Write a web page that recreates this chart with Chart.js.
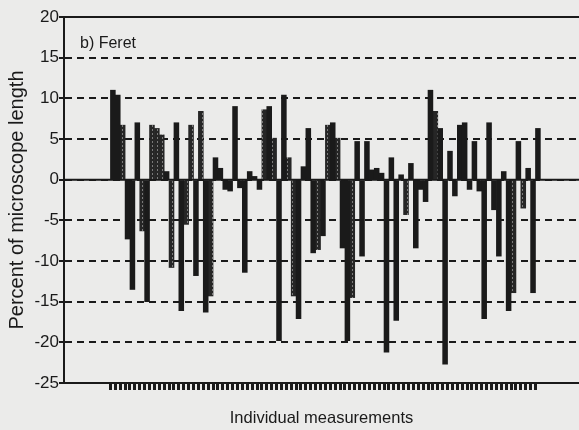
<!DOCTYPE html>
<html>
<head>
<meta charset="utf-8">
<script src="https://cdn.jsdelivr.net/npm/chart.js@4.4.0/dist/chart.umd.min.js"></script>
<style>
  html, body { margin: 0; padding: 0; background: #ebebea; }
</style>
</head>
<body>
<canvas id="myChart" width="579" height="430"></canvas>
<script>
// Feret: difference from microscope length (%) for each measurement
var solidBars = [
    11.0, 10.4, null, -7.3, -13.5, 7.0, null, -15.0, null, null,
    null, 1.0, null, 7.0, -16.1, null, null, -11.8, null, -16.3,
    null, 2.7, 1.4, -1.2, -1.4, 9.0, -1.0, -11.4, 1.0, 0.4,
    -1.2, null, 9.0, null, -19.8, 10.4, null, null, -17.1, 1.6,
    6.3, -9.0, null, -6.9, null, 7.0, null, -8.4, -19.8, null,
    4.7, -9.4, 4.7, 1.2, 1.4, 0.8, -21.2, 2.7, -17.3, 0.6,
    null, 2.0, -8.4, -1.2, -2.7, 11.0, null, 6.3, -22.7, 3.5,
    -2.0, 6.7, 7.0, -1.2, 4.7, -1.4, -17.1, 7.0, -3.7, -9.4,
    1.0, -16.1, null, 4.7, null, 1.4, -13.9, 6.3
];
var dottedBars = [
    null, null, 6.7, null, null, null, -6.3, null, 6.7, 6.3,
    5.5, null, -10.8, null, null, -5.5, 6.7, null, 8.4, null,
    -14.3, null, null, null, null, null, null, null, null, null,
    null, 8.6, null, 5.1, null, null, 2.7, -14.3, null, null,
    null, null, -8.6, null, 6.7, null, 5.1, null, null, -14.5,
    null, null, null, null, null, null, null, null, null, null,
    -4.3, null, null, null, null, null, 8.4, null, null, null,
    null, null, null, null, null, null, null, null, null, null,
    null, null, -13.9, null, -3.5, null, null, null
];
// measurement number (x category)
var measurements = solidBars.map(function(v, i) { return i + 1; });
var yMin = -25, yMax = 20, yStep = 5;

var ink = '#1a1a1a';
var font = '"Liberation Sans", Arial, sans-serif';

var canvas = document.getElementById('myChart');
var ctx = canvas.getContext('2d');

var tile = document.createElement('canvas');
tile.width = 5; tile.height = 4;
var t = tile.getContext('2d');
t.fillStyle = '#262626'; t.fillRect(0, 0, 5, 4);
t.fillStyle = '#7a7a7a'; t.fillRect(2, 1, 1, 2);
var dots = ctx.createPattern(tile, 'repeat');

var frame = {
    id: 'frame',
    beforeDatasetsDraw: function(chart) {
        var c = chart.ctx, a = chart.chartArea;
        var y0 = chart.scales.y.getPixelForValue(0);
        c.save();
        c.strokeStyle = ink;
        c.lineWidth = 2;
        c.beginPath();
        c.moveTo(a.left, a.top); c.lineTo(a.right, a.top);
        c.moveTo(a.left, y0); c.lineTo(a.right, y0);
        c.stroke();
        c.fillStyle = ink;
        c.font = '16px ' + font;
        c.textBaseline = 'middle';
        c.fillText('b) Feret', a.left + 16, a.top + 27);
        c.restore();
    }
};

function onBar(v) {
    return Number.isInteger(v) && v >= 1 && v <= measurements.length;
}

var chart = new Chart(ctx, {
    type: 'bar',
    data: {
        labels: measurements,
        datasets: [{
            data: solidBars,
            backgroundColor: ink,
            grouped: false,
            barPercentage: 1,
            categoryPercentage: 1
        }, {
            data: dottedBars,
            backgroundColor: dots,
            grouped: false,
            barPercentage: 1,
            categoryPercentage: 1
        }]
    },
    options: {
        responsive: false,
        animation: false,
        layout: { padding: { top: 17, left: 0, right: 0, bottom: 0 } },
        plugins: { legend: { display: false }, tooltip: { enabled: false } },
        scales: {
            x: {
                type: 'linear',
                min: -8.5,
                max: 95.9,
                afterFit: function(s) { s.height = 47; },
                ticks: { display: false, stepSize: 1, autoSkip: false },
                grid: {
                    drawOnChartArea: false,
                    tickLength: 7,
                    tickWidth: 3,
                    color: function(c) { return c.tick && onBar(c.tick.value) ? ink : 'rgba(0,0,0,0)'; },
                    tickColor: function(c) { return c.tick && onBar(c.tick.value) ? ink : 'rgba(0,0,0,0)'; }
                },
                border: { color: ink, width: 2 },
                title: {
                    display: true,
                    text: 'Individual measurements',
                    color: ink,
                    font: { family: font, size: 16.5 },
                    padding: { top: 0, bottom: 2 }
                }
            },
            y: {
                min: yMin,
                max: yMax,
                afterFit: function(s) { s.width = 64; },
                ticks: {
                    stepSize: yStep,
                    padding: 0,
                    color: ink,
                    font: { family: font, size: 17 }
                },
                grid: {
                    lineWidth: 2,
                    tickLength: 5,
                    tickColor: ink,
                    color: function(c) {
                        var v = c.tick && c.tick.value;
                        return (v === yMax || v === yMin) ? 'rgba(0,0,0,0)' : ink;
                    }
                },
                border: { color: ink, width: 2, dash: [7, 5] },
                title: {
                    display: true,
                    text: 'Percent of microscope length',
                    color: ink,
                    font: { family: font, size: 20 },
                    padding: { top: 5, bottom: 0 }
                }
            }
        }
    },
    plugins: [frame]
});
</script>
</body>
</html>
